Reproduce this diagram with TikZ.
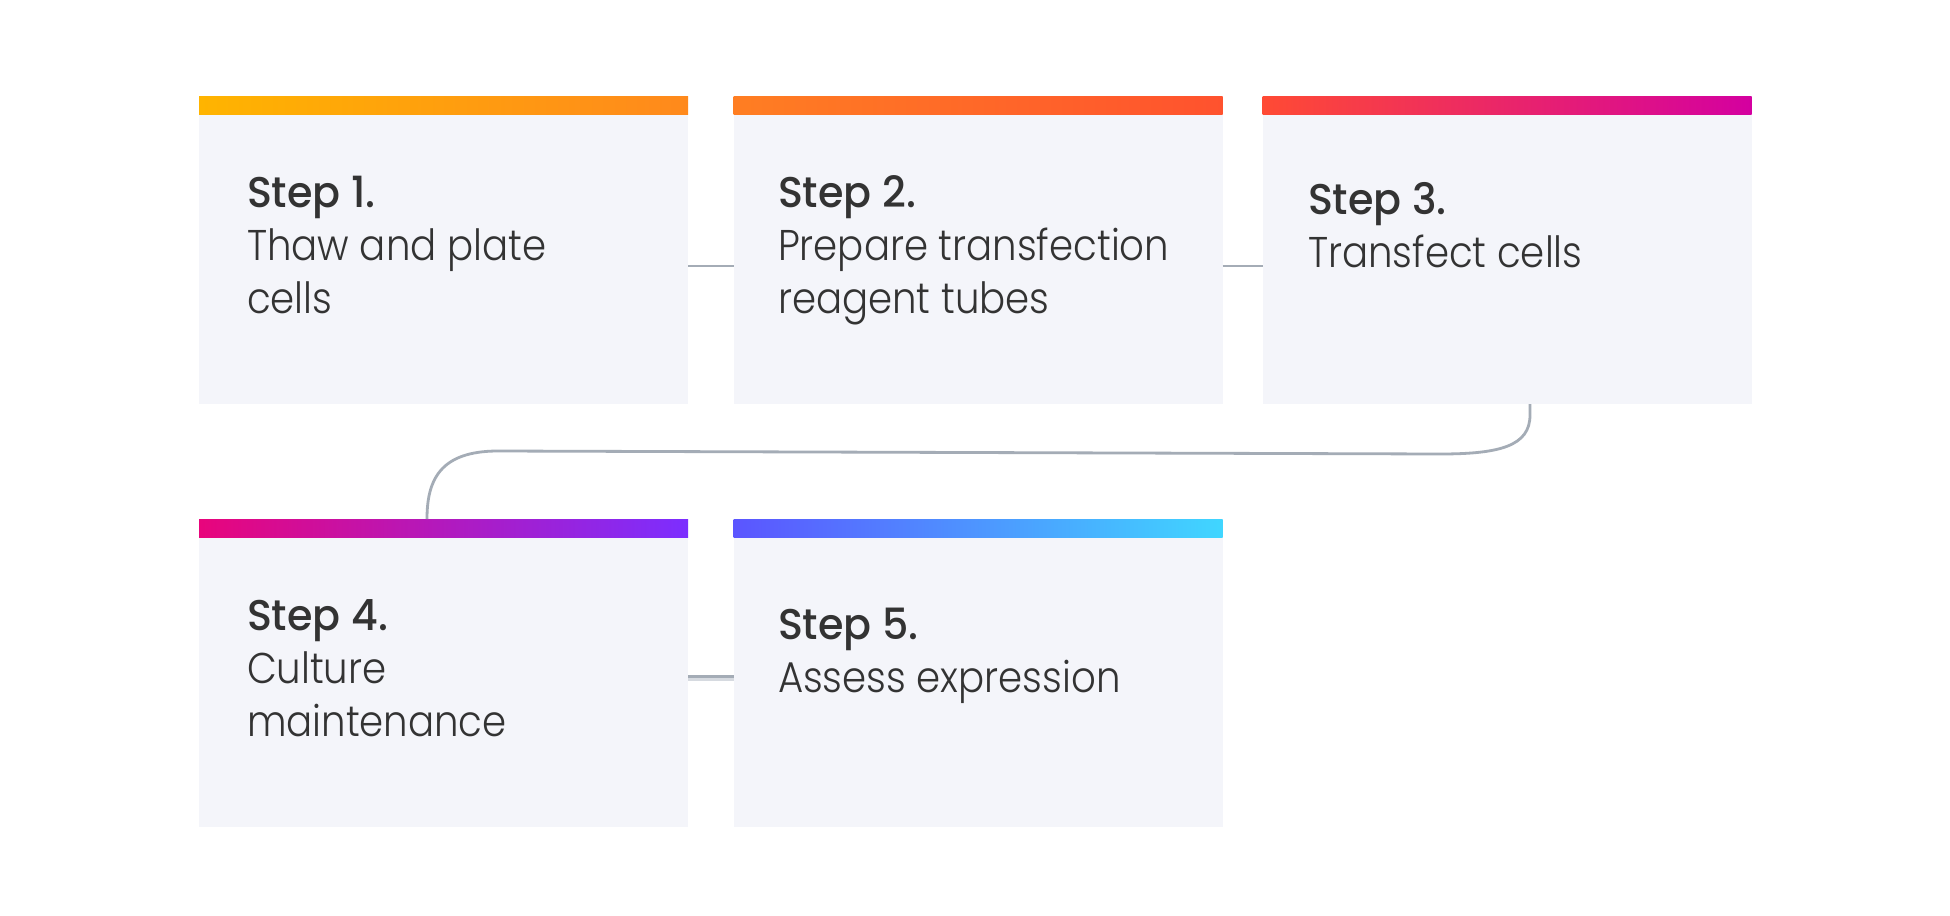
\documentclass[tikz,border=0pt]{standalone}
\usepackage{fontspec}
\setmainfont{Poppins}[UprightFont=* Light, BoldFont=* Medium, UprightFeatures={FakeStretch=0.9}, BoldFeatures={FakeStretch=0.96}]
\definecolor{boxfill}{HTML}{F4F5FA}
\definecolor{txt}{HTML}{333333}
\definecolor{conn}{HTML}{A4ACB6}
\definecolor{connlight}{HTML}{D6DAE0}
\tikzset{
  stepbox/.style={rectangle, fill=boxfill, draw=none, inner sep=0pt, outer sep=0pt,
    minimum width=244.5pt, minimum height=154pt, anchor=north west},
  steptext/.style={anchor=base west, inner sep=0pt, outer sep=0pt, align=left,
    text=txt, font=\fontsize{21.5pt}{26.5pt}\selectfont},
  connline/.style={draw=conn, line width=1.4pt},
}
\begin{document}
\begin{tikzpicture}[x=0.5pt,y=-0.5pt]
\useasboundingbox[fill=white] (0,0) rectangle (1950,916);
% boxes
\node[stepbox] (b1) at (199,96) {};
\node[stepbox] (b2) at (733.5,96) {};
\node[stepbox] (b3) at (1262.5,96) {};
\node[stepbox] (b4) at (199,519) {};
\node[stepbox] (b5) at (733.5,519) {};
% gradient bars
\shade[left color={rgb,255:red,255;green,180;blue,0}, right color={rgb,255:red,255;green,137;blue,28}]
  (b1.north west) rectangle ([yshift=-9pt]b1.north east);
\shade[left color={rgb,255:red,255;green,126;blue,34}, right color={rgb,255:red,255;green,82;blue,46}]
  (b2.north west) rectangle ([yshift=-9pt]b2.north east);
\shade[left color={rgb,255:red,255;green,74;blue,52}, middle color={rgb,255:red,238;green,22;blue,96}, right color={rgb,255:red,212;green,0;blue,160}]
  (b3.north west) rectangle ([yshift=-9pt]b3.north east);
\shade[left color={rgb,255:red,232;green,5;blue,124}, middle color={rgb,255:red,184;green,8;blue,226}, right color={rgb,255:red,124;green,46;blue,255}]
  (b4.north west) rectangle ([yshift=-9pt]b4.north east);
\shade[left color={rgb,255:red,91;green,85;blue,255}, middle color={rgb,255:red,45;green,170;blue,255}, right color={rgb,255:red,64;green,214;blue,255}]
  (b5.north west) rectangle ([yshift=-9pt]b5.north east);
% texts (anchored at the baseline of the last line)
\node[steptext] (t1) at (247,313) {\textbf{Step 1.}\\Thaw and plate\\cells};
\node[steptext] (t2) at (778,313) {\textbf{Step 2.}\\Prepare transfection\\reagent tubes};
\node[steptext] (t3) at (1308,267) {\textbf{Step 3.}\\Transfect cells};
\node[steptext] (t4) at (247,736) {\textbf{Step 4.}\\Culture\\maintenance};
\node[steptext] (t5) at (778,692) {\textbf{Step 5.}\\Assess expression};
% connectors
\draw[connline] ([yshift=-8pt]b1.east) -- ([yshift=-8pt]b2.west);
\draw[connline] ([yshift=-8pt]b2.east) -- ([yshift=-8pt]b3.west);
\draw[draw=connlight, line width=3.2pt] ([yshift=-2.5pt]b4.east) -- ([yshift=-2.5pt]b5.west);
\draw[draw=conn, line width=1.6pt] ([yshift=-1.8pt]b4.east) -- ([yshift=-1.8pt]b5.west);
\coordinate (c1) at (1530,415);
\coordinate (c2) at (1440,454);
\coordinate (c3) at (498,451);
\draw[connline] (b3.south -| c1) -- (c1) .. controls (1530,446) and (1500,454) .. (c2)
  -- (c3) .. controls (440,451) and (427,480) .. (b4.north -| 427,0);
\end{tikzpicture}
\end{document}
